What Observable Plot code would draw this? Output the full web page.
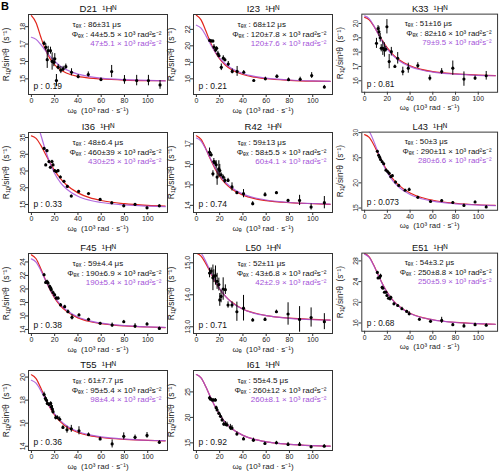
<!DOCTYPE html>
<html><head><meta charset="utf-8">
<script src="https://cdn.jsdelivr.net/npm/d3@7"></script>
<script src="https://cdn.jsdelivr.net/npm/@observablehq/plot@0.6"></script>
<style>
body{margin:0;background:#fff;font-family:"Liberation Sans",Arial,sans-serif}
#root{position:relative;width:501px;height:474px;overflow:hidden;background:#fff}
.panel{position:absolute}
#B{position:absolute;left:1px;top:0px;font-weight:bold;font-size:11px}
</style></head><body><div id="root"><div id="B">B</div></div>
<script>
// ---------- shared data ----------
const curveX = [0,4,8,12,16,20,25,30,40,50,60,80,100,115];
const xTicks = [0,20,40,60,80,100];
const residues = ["D21","I23","K33","I36","R42","L43","F45","L50","E51","T55","I61"];
const tauTexts = ["86±31","68±12","51±16","48±6.4","59±13","50±3","59±4.4","52±11","54±3.2","61±7.7","55±4.5"];
const phiTexts = ["44±5.5","120±7.8","82±16","460±39","58±5.5","290±11","190±6.9","43±6.8","250±8.8","95±5.4","260±12"];
const phiAltTexts = ["47±5.1","120±7.6","79±9.5","430±25","60±4.1","280±6.6","190±5.4","42±2.9","250±5.9","98±4.4","260±8.1"];
const pTexts = ["0.19","0.21","0.81","0.33","0.74","0.073","0.38","0.71","0.68","0.36","0.92"];
const yDomains = [[14.1,18.7],[14.1,23.8],[15.2,20.65],[12.6,36.5],[13.65,17.56],[14.55,30.1],[13.4,25.25],[12.79,15.29],[14.4,29.5],[13.63,20.57],[13.5,29.2]];
const yTicks = [[15,16,17,18],[16,18,20,22],[16,17,18,19,20],[15,20,25,30,35],[14,15,16,17],[15,20,25,30],[14,16,18,20,22,24],[13,14,15],[16,20,24,28],[14,16,18,20],[15,20,25]];
const yTickLabels = [["15","16","17","18"],["16","18","20","22"],["16","17","18","19","20"],["15","20","25","30","35"],["14","15","16","17"],["15","20","25","30"],["14","16","18","20","22","24"],["13.0","14.0","15.0"],["16","20","24","28"],["14","16","18","20"],["15","20","25"]];

// ---------- per residue data ----------
const D21_x = [10.9,12.4,13.6,14.4,16.4,17.8,19.3,20.1,21.5,23.0,25.3,27.3,29.6,34.5,40.2,48.9,59.8,69,80,90.5,100.6,110.6];
const D21_y = [17.04,16.81,16.1,16.62,16.62,16.0,15.95,16.15,14.9,15.67,15.5,15.57,15.7,15.38,15.13,15.25,14.96,15.42,14.94,14.9,14.9,14.65];
const D21_err = [0.12,0.2,0.5,0.25,0.2,0.5,0.25,0.3,0.35,0.15,0.2,0.15,0.15,0.2,0.12,0.15,0.1,0.35,0.25,0.3,0.3,0.25];
const D21_fitRed = [18.63,18.23,17.42,16.68,16.16,15.80,15.52,15.34,15.14,15.04,14.99,14.93,14.90,14.89];
const D21_fitPurple = [17.39,17.27,16.98,16.63,16.29,16.01,15.73,15.53,15.27,15.13,15.04,14.95,14.91,14.88];

const I23_x = [11.4,12.8,14.2,15.1,16.5,17.4,18.5,19.4,21.4,23.1,24.5,27.4,30.8,35,40.7,49.3,59.3,69.2,79.2,89.2,99.1,110];
const I23_y = [20.66,20.58,20.58,19.85,19.5,19.7,19.04,18.8,17.4,18.5,18.3,17.8,16.9,16.9,16.8,15.8,16.0,16.3,15.9,15.95,16.4,15.0];
const I23_err = [0.15,0.15,0.15,0.3,0.3,0.2,0.3,0.2,0.4,0.3,0.2,0.3,0.3,0.6,0.2,0.1,0.2,0.2,0.2,0.25,0.35,0.2];
const I23_fitRed = [23.71,23.15,21.85,20.45,19.29,18.41,17.65,17.13,16.52,16.20,16.01,15.82,15.72,15.68];
const I23_fitPurple = [22.50,22.14,21.27,20.23,19.28,18.51,17.79,17.27,16.64,16.29,16.08,15.86,15.75,15.70];

const K33_x = [10.4,11.8,12.6,13.7,14.6,16,17.4,18.6,19.6,21.6,23.5,26.6,29.1,33.6,38.4,46.8,57.4,67.8,77.6,87.4,97.2,107];
const K33_y = [18.61,19.65,19.42,19.0,18.27,18.27,18.15,18.2,19.77,17.34,18.03,17.0,17.57,16.65,16.88,17.06,16.19,16.65,16.88,16.12,16.19,16.35];
const K33_err = [0.35,0.2,0.35,0.3,0.25,0.5,0.5,0.2,0.5,0.5,0.3,0.1,0.4,0.3,0.35,0.2,0.2,0.2,0.5,0.5,0.15,0.3];
const K33_fitRed = [20.42,20.25,19.82,19.28,18.75,18.29,17.83,17.49,17.05,16.80,16.64,16.48,16.40,16.36];
const K33_fitPurple = [20.53,20.34,19.85,19.25,18.68,18.21,17.75,17.42,16.99,16.75,16.61,16.46,16.38,16.35];

const I36_x = [10.9,12.3,13.4,15.1,16.3,17.7,18.6,20,21.4,22.9,24.9,28,30.9,34.3,40.6,49.1,59.1,69.1,79.4,89.1,99.4,110];
const I36_y = [31.75,26.8,31.06,27.8,26.1,27.8,26.8,25.1,24.85,25.1,23.2,21.9,20.4,17.5,18.9,18.25,16.5,15.5,14.6,15.0,14.0,14.6];
const I36_err = [0.3,0.3,0.3,0.3,0.3,0.4,0.3,0.3,0.3,0.3,0.3,0.3,0.3,0.3,0.3,0.3,0.3,0.3,0.3,0.3,0.3,0.3];
const I36_fitRed = [35.5,34.73,32.72,30.10,27.47,25.11,22.72,20.90,18.47,17.05,16.18,15.23,14.75,14.54];
const I36_fitPurple = [41.85,40.08,35.9,31.26,27.31,24.26,21.54,19.68,17.46,16.27,15.58,14.85,14.5,14.34];

const R42_x = [11.3,12.7,14.2,15,15.9,17,17.8,19.3,20.1,21.2,23,24.4,27.2,30.6,34.8,40.5,48.4,59,68.8,78.8,88.7,98.6,110];
const R42_y = [16.6,16.47,15.54,16.14,16.08,15.98,15.38,15.78,15.7,15.49,15.38,15.22,15.22,14.9,14.62,14.57,14.08,14.52,14.62,14.24,14.24,13.92,14.13];
const R42_err = [0.2,0.1,0.15,0.15,0.1,0.2,0.4,0.4,0.3,0.1,0.1,0.15,0.1,0.2,0.05,0.2,0.1,0.1,0.05,0.05,0.25,0.15,0.3];
const R42_fitRed = [17.40,17.22,16.78,16.26,15.79,15.41,15.06,14.81,14.50,14.33,14.23,14.13,14.08,14.05];
const R42_fitPurple = [17.29,17.14,16.75,16.29,15.85,15.48,15.13,14.87,14.55,14.37,14.26,14.14,14.09,14.06];

const L43_x = [11.2,12.3,13.2,14,15.4,16.8,18.8,20.2,21.6,23,24.4,27.2,30,35.6,39.2,46.8,58,67.8,77.6,87.4,97.2,107];
const L43_y = [26.27,25.5,25.1,24.66,24.2,23.8,22.53,22.27,21.9,21.24,21.44,20.15,19.5,18.54,18.67,17.12,16.3,16.48,16.1,15.5,16.2,15.2];
const L43_err = [0.2,0.2,0.2,0.2,0.2,0.2,0.2,0.2,0.2,0.2,0.2,0.2,0.2,0.2,0.3,0.2,0.2,0.2,0.2,0.3,0.2,0.3];
const L43_fitRed = [29.6,29.04,27.6,25.76,23.94,22.35,20.76,19.56,18.0,17.1,16.55,15.95,15.64,15.53];
const L43_fitPurple = [31.06,30.27,28.31,25.97,23.81,22.04,20.37,19.17,17.67,16.85,16.36,15.83,15.58,15.46];

const F45_x = [10.9,12.3,13.4,14.3,15.7,16.6,17.1,18.6,20,21.4,22.9,25.1,28.6,31.4,34.9,40.9,49.1,59.1,69.4,79.4,89.1,99.4,110];
const F45_y = [22.1,20.97,21.1,20.87,20.37,20.12,19.87,19.47,19.12,18.63,18.63,17.63,17.38,16.64,15.8,16.14,15.5,14.9,14.65,15.14,14.5,14.8,14.15];
const F45_err = [0.2,0.2,0.2,0.2,0.2,0.2,0.2,0.2,0.2,0.2,0.2,0.2,0.2,0.25,0.4,0.2,0.15,0.15,0.3,0.2,0.35,0.2,0.2];
const F45_fitRed = [25.05,24.47,23.04,21.38,19.87,18.65,17.51,16.71,15.72,15.18,14.86,14.52,14.36,14.28];
const F45_fitPurple = [24.45,23.97,22.77,21.32,19.94,18.78,17.67,16.87,15.85,15.28,14.93,14.57,14.39,14.31];

const L50_x = [11.3,12.7,14.2,15,16.4,17.8,19.3,20.1,21.2,23,24.9,27.2,30.6,34.8,40.5,48.4,59,68.8,78.8,88.7,98.6,110];
const L50_y = [14.68,14.74,14.53,14.58,14.6,14.42,14.32,13.84,13.95,14.18,14.16,13.68,13.68,13.47,13.58,13.21,13.23,13.47,13.4,13.23,13.29,13.16];
const L50_err = [0.15,0.1,0.4,0.2,0.3,0.25,0.2,0.2,0.2,0.35,0.15,0.1,0.1,0.3,0.4,0.05,0.05,0.05,0.35,0.4,0.3,0.25];
const L50_fitRed = [15.30,15.21,14.98,14.70,14.42,14.18,13.95,13.78,13.55,13.43,13.35,13.27,13.23,13.21];
const L50_fitPurple = [15.40,15.30,15.05,14.73,14.44,14.19,13.95,13.77,13.55,13.42,13.35,13.26,13.22,13.21];

const E51_x = [11.2,11.8,13.2,14,15.4,16,17.4,18.8,19.6,21,22.4,23,25.8,29.1,32.8,37,39.2,48.2,58,67.8,77.6,87.4,97.2,107];
const E51_y = [25.77,24.68,24.8,25.13,22.9,22.7,21.94,21.94,21.3,20.79,20.66,20.98,19.7,19.38,18.75,18.24,17.79,16.7,16.32,16.5,15.68,15.43,15.68,15.55];
const E51_err = [0.2,0.2,0.3,0.3,0.2,0.2,0.2,0.2,0.2,0.2,0.2,0.2,0.2,0.2,0.3,0.2,0.4,0.2,0.2,0.6,0.2,0.4,0.3,0.3];
const E51_fitRed = [29.4,28.78,27.19,25.26,23.42,21.86,20.36,19.27,17.87,17.09,16.62,16.11,15.86,15.75];
const E51_fitPurple = [29.3,28.68,27.11,25.19,23.36,21.81,20.32,19.24,17.85,17.07,16.61,16.10,15.86,15.75];

const T55_x = [10.9,12,12.9,13.7,15.1,16.6,17.1,18,18.6,20.9,22.3,24.3,27.1,30.6,34.3,40.9,49.1,59.1,69.4,79.4,89.1,99.4,110];
const T55_y = [18.49,18.14,18.0,17.71,17.63,17.71,17.43,17.23,17.0,16.49,16.49,16.34,15.63,15.43,15.51,15.34,15.0,14.63,14.2,14.86,14.77,14.94,14.34];
const T55_err = [0.2,0.2,0.2,0.15,0.15,0.15,0.2,0.3,0.2,0.2,0.15,0.2,0.15,0.3,0.3,0.35,0.15,0.15,0.35,0.3,0.2,0.25,0.15];
const T55_fitRed = [20.20,19.87,19.07,18.16,17.35,16.70,16.11,15.70,15.19,14.92,14.76,14.59,14.50,14.47];
const T55_fitPurple = [19.72,19.47,18.85,18.10,17.39,16.79,16.22,15.80,15.28,14.98,14.81,14.62,14.52,14.48];

const I61_x = [11.3,12.2,13.6,15,16.4,17,17.8,19.3,20.7,22.1,23.5,24.9,26.3,29.2,30.6,34.8,40.5,49,58.9,68.8,78.8,88.7,98.6,109.9];
const I61_y = [23.84,23.58,23.39,23.39,23.39,21.9,21.45,20.8,20.2,19.5,18.68,18.68,18.55,18.03,17.9,16.74,15.77,15.52,14.87,15.0,14.68,14.68,14.23,14.35];
const I61_err = [0.3,0.3,0.3,0.3,0.3,0.3,0.3,0.3,0.4,0.4,0.4,0.5,0.5,0.6,0.5,0.4,0.3,0.4,0.3,0.3,0.4,0.4,0.2,0.3];
const I61_fitRed = [28.4,27.74,26.06,24.03,22.12,20.52,18.98,17.87,16.47,15.68,15.21,14.71,14.46,14.35];
const I61_fitPurple = [28.4,27.74,26.06,24.03,22.12,20.52,18.98,17.87,16.47,15.68,15.21,14.71,14.46,14.35];

// ---------- layout & style ----------
const colL = [28, 193, 362];
const rowT = [14, 132, 253, 370];
const FW = 139, FH = 80;
const ML = 30, MR = 4, MT = 16, MB = 26;
const xDomain = [-2.5, 117];
const RED = "#e2261d", PURPLE = "#a452d8";

const series = [
  [D21_x,D21_y,D21_err,D21_fitRed,D21_fitPurple],
  [I23_x,I23_y,I23_err,I23_fitRed,I23_fitPurple],
  [K33_x,K33_y,K33_err,K33_fitRed,K33_fitPurple],
  [I36_x,I36_y,I36_err,I36_fitRed,I36_fitPurple],
  [R42_x,R42_y,R42_err,R42_fitRed,R42_fitPurple],
  [L43_x,L43_y,L43_err,L43_fitRed,L43_fitPurple],
  [F45_x,F45_y,F45_err,F45_fitRed,F45_fitPurple],
  [L50_x,L50_y,L50_err,L50_fitRed,L50_fitPurple],
  [E51_x,E51_y,E51_err,E51_fitRed,E51_fitPurple],
  [T55_x,T55_y,T55_err,T55_fitRed,T55_fitPurple],
  [I61_x,I61_y,I61_err,I61_fitRed,I61_fitPurple]
];

const root = document.getElementById("root");
series.forEach(([xs, ys, es, fr, fp], i) => {
  const col = i % 3, row = Math.floor(i / 3);
  const pts = xs.map((x, j) => ({x, y: ys[j], e: es[j]}));
  const cr = curveX.map((x, j) => ({x, y: fr[j]}));
  const cp = curveX.map((x, j) => ({x, y: fp[j]}));
  const yt = yTicks[i].map((v, j) => ({v, t: yTickLabels[i][j]}));
  const svg = Plot.plot({
    width: ML + FW + MR, height: MT + FH + MB,
    marginLeft: ML, marginRight: MR, marginTop: MT, marginBottom: MB,
    style: {background: "none", fontFamily: "'Liberation Sans', Arial, sans-serif", fontSize: "7px", overflow: "visible", color: "#222"},
    x: {domain: xDomain, label: null},
    y: {domain: yDomains[i], label: null},
    marks: [
      Plot.line(cr, {x: "x", y: "y", stroke: RED, strokeWidth: 1.2, curve: "monotone-x", clip: true}),
      Plot.line(cp, {x: "x", y: "y", stroke: PURPLE, strokeWidth: 1.2, strokeOpacity: 0.85, curve: "monotone-x", clip: true}),
      Plot.ruleX(pts, {x: "x", y1: d => d.y - d.e, y2: d => d.y + d.e, stroke: "#000", strokeWidth: 1}),
      Plot.dot(pts, {x: "x", y: "y", r: 1.6, fill: "#000", stroke: "none"}),
      Plot.frame({stroke: "#333", strokeWidth: 1}),
      Plot.axisX(xTicks, {tickSize: 3, tickPadding: 1, label: null, stroke: "#333"}),
      Plot.axisY(yTicks[i], {tickSize: 3, tickFormat: () => "", label: null, stroke: "#333"}),
      Plot.text(yt, {y: "v", text: "t", frameAnchor: "left", rotate: -90, dx: -4, lineAnchor: "bottom", textAnchor: "middle", fill: "#222"}),
      Plot.text([`${residues[i]}  ¹Hᴺ`], {text: d => d, frameAnchor: "top", dy: -2.5, lineAnchor: "bottom", fontSize: 9.5, fill: "#111"}),
      Plot.text(["ωₑ  (10³ rad · s⁻¹)"], {text: d => d, frameAnchor: "bottom", dy: 16, lineAnchor: "middle", fontSize: 8, fill: "#222"}),
      Plot.text(["R₁ᵨ/sin²θ  (s⁻¹)"], {text: d => d, frameAnchor: "left", rotate: -90, dx: -22, lineAnchor: "middle", textAnchor: "middle", fontSize: 8.5, fill: "#222"}),
      Plot.text([`τₑₓ : ${tauTexts[i]} μs`], {text: d => d, frameAnchor: "top-left", dx: 44, dy: 10, textAnchor: "start", lineAnchor: "middle", fontSize: 8, fill: "#111"}),
      Plot.text([`Φₑₓ : ${phiTexts[i]} × 10³ rad²s⁻²`], {text: d => d, frameAnchor: "top-right", dx: -6, dy: 19.5, textAnchor: "end", lineAnchor: "middle", fontSize: 8, fill: "#111"}),
      Plot.text([`${phiAltTexts[i]} × 10³ rad²s⁻²`], {text: d => d, frameAnchor: "top-right", dx: -6, dy: 29, textAnchor: "end", lineAnchor: "middle", fontSize: 8, fill: PURPLE}),
      Plot.text([`p : ${pTexts[i]}`], {text: d => d, frameAnchor: "bottom-left", dx: 5, dy: -8, textAnchor: "start", lineAnchor: "middle", fontSize: 8.5, fill: "#111"})
    ]
  });
  const div = document.createElement("div");
  div.className = "panel";
  div.style.left = (colL[col] - ML) + "px";
  div.style.top = (rowT[row] - MT) + "px";
  div.appendChild(svg);
  root.appendChild(div);
});
</script>
</body></html>
